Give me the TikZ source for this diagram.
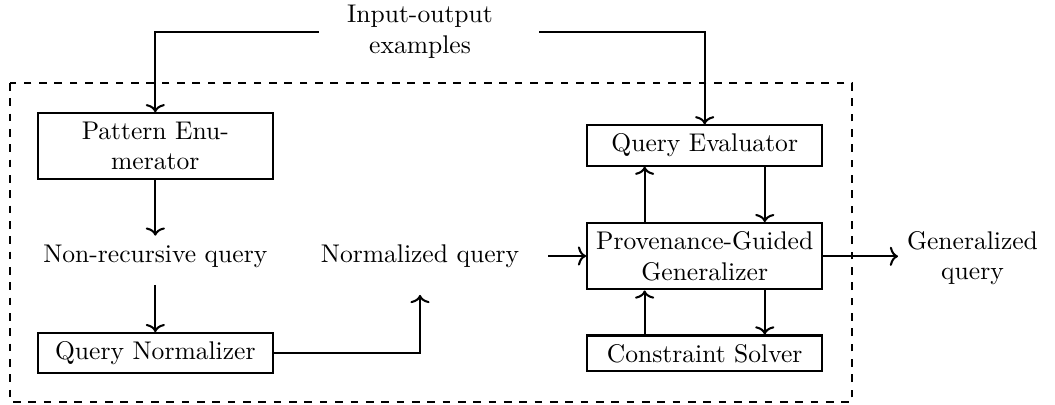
\documentclass[tikz,border=0pt]{standalone}
\usetikzlibrary{arrows.meta}
\begin{document}
\begin{tikzpicture}[x=0.3912pt,y=-0.3912pt,
  box/.style={draw,thick,minimum width=92pt,align=center,inner sep=3.33pt},
  lbl/.style={align=center},
  arr/.style={-{To[width=7.5pt,length=3.2pt]},thick}]
\useasboundingbox (0,0) rectangle (1055,404);
\draw[thick,dashed] (10,83) rectangle (852,402);
\node[lbl] (io) at (420,32) {Input-output\\examples};
\node[box] (pe) at (155.3,146) {Pattern Enu-\\merator};
\node[lbl] (nr) at (155.3,256) {Non-recursive query};
\node[box] (qn) at (155.3,353.3) {Query Normalizer};
\node[lbl] (nq) at (420,256) {Normalized query};
\node[box] (qe) at (704.7,145.5) {Query Evaluator};
\node[box] (pg) at (704.7,256.3) {Provenance-Guided\\Generalizer};
\node[box] (cs) at (704.7,353.3) {Constraint Solver};
\node[lbl] (gq) at (972.5,258) {Generalized\\query};
\draw[arr, shorten <=7.5pt] (io.west) -| (pe.north);
\draw[arr, shorten <=14.7pt] (io.east) -| (qe.north);
\draw[arr] (pe) -- (nr);
\draw[arr, shorten <=3.3pt] (nr) -- (qn);
\draw[arr, shorten >=7.2pt] (qn.east) -| (nq.south);
\draw[arr, shorten <=7.9pt] (nq.east) -- (nq.east -| pg.west);
\draw[arr] (pg.east) -- (pg.east -| gq.west);
\draw[arr] ([xshift=-23.5pt]pg.north) -- ([xshift=-23.5pt]qe.south);
\draw[arr] ([xshift=23.5pt]qe.south) -- ([xshift=23.5pt]pg.north);
\draw[arr] ([xshift=-23.5pt]cs.north) -- ([xshift=-23.5pt]pg.south);
\draw[arr] ([xshift=23.5pt]pg.south) -- ([xshift=23.5pt]cs.north);
\end{tikzpicture}
\end{document}
